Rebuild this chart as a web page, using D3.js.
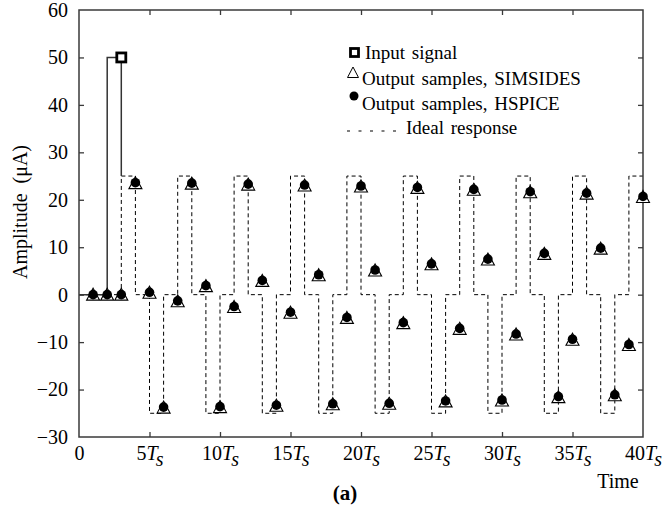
<!DOCTYPE html>
<html>
<head>
<meta charset="utf-8">
<script src="https://cdn.jsdelivr.net/npm/d3@7"></script>
<style>
  body { margin: 0; background: #fff; }
  svg text { font-family: "Liberation Serif", "Times New Roman", Times, serif; fill: #000; }
</style>
</head>
<body>
<svg id="chart" width="664" height="508"></svg>
<script>
// sample index n (in units of Ts)
const sampleN = d3.range(1, 41);

// HSPICE output samples (uA)
const hspice = [0, 0, 0, 23.6, 0.5, -23.7, -1.3, 23.5, 1.9, -23.6,
                -2.5, 23.3, 3.0, -23.3, -3.7, 23.1, 4.2, -23.0, -4.8, 22.9,
                5.2, -22.9, -5.9, 22.6, 6.5, -22.4, -7.1, 22.2, 7.5, -22.2,
                -8.3, 21.7, 8.7, -21.5, -9.4, 21.4, 9.8, -21.1, -10.5, 20.7];

// SIMSIDES output samples (uA)
const simsides = [0, 0, 0, 23.5, 0.4, -23.8, -1.4, 23.4, 1.8, -23.7,
                  -2.6, 23.2, 2.9, -23.4, -3.8, 23.0, 4.1, -23.1, -4.9, 22.8,
                  5.1, -23.0, -6.0, 22.5, 6.4, -22.5, -7.2, 22.1, 7.4, -22.3,
                  -8.4, 21.6, 8.6, -21.6, -9.5, 21.3, 9.7, -21.2, -10.6, 20.6];

// ideal response, held from n*Ts to (n+1)*Ts
const idealN = d3.range(0, 41);
const ideal = [0, 0, 0, 25, 0, -25, 0, 25, 0, -25,
               0, 25, 0, -25, 0, 25, 0, -25, 0, 25,
               0, -25, 0, 25, 0, -25, 0, 25, 0, -25,
               0, 25, 0, -25, 0, 25, 0, -25, 0, 25, 25];

// input signal, held
const inputN = [0, 1, 2, 3];
const inputV = [0, 0, 50, 50];

const yTicks = [-30, -20, -10, 0, 10, 20, 30, 40, 50, 60];
const xTicks = [0, 5, 10, 15, 20, 25, 30, 35, 40];

const legendItems = ["Input signal", "Output samples, SIMSIDES", "Output samples, HSPICE", "Ideal response"];

const svg = d3.select("#chart");
const margin = { top: 10, right: 21, bottom: 71, left: 79 };
const width = 664 - margin.left - margin.right,
      height = 508 - margin.top - margin.bottom;
const chart = svg.append("g").attr("transform", `translate(${margin.left},${margin.top})`);

const x = d3.scaleLinear().domain([0, 40]).range([0, width]);
const y = d3.scaleLinear().domain([-30, 60]).range([height, 0]);

const frameColor = "#3a3a3a";

// ideal response (dashed step)
const idealPts = idealN.map((n, i) => [n, ideal[i]]);
chart.append("path")
  .datum(idealPts)
  .attr("fill", "none")
  .attr("stroke", "#000")
  .attr("stroke-width", 1)
  .attr("stroke-dasharray", "4,3")
  .attr("d", d3.line().x(d => x(d[0])).y(d => y(d[1])).curve(d3.curveStepAfter));

// input signal (solid step), dropping onto the ideal response level
const inputPts = inputN.map((n, i) => [n, inputV[i]]);
inputPts.push([inputN[inputN.length - 1], ideal[inputN[inputN.length - 1]]]);
chart.append("path")
  .datum(inputPts)
  .attr("fill", "none")
  .attr("stroke", "#333")
  .attr("stroke-width", 1.5)
  .attr("d", d3.line().x(d => x(d[0])).y(d => y(d[1])).curve(d3.curveStepAfter));

// input marker
chart.append("rect")
  .attr("x", x(3) - 4.5).attr("y", y(50) - 4.5)
  .attr("width", 9).attr("height", 9)
  .attr("fill", "#fff").attr("stroke", "#000").attr("stroke-width", 2.8);

// frame and axes
chart.append("rect")
  .attr("width", width).attr("height", height)
  .attr("fill", "none").attr("stroke", frameColor).attr("stroke-width", 1.5);

const tickLen = 5;
const xb = chart.append("g")
  .attr("transform", `translate(0,${height})`)
  .call(d3.axisBottom(x).tickValues(xTicks).tickSize(-tickLen).tickFormat(""));
xb.select(".domain").remove();
xb.selectAll(".tick line").attr("stroke", frameColor).attr("stroke-width", 1.3);
xb.selectAll(".tick").filter(d => d === 0 || d === 40).select("line").remove();

xb.selectAll(".tick").append("text")
  .attr("y", 23)
  .attr("text-anchor", "middle")
  .attr("font-size", 20)
  .each(function(d) {
    const t = d3.select(this);
    if (d === 0) { t.text("0"); return; }
    t.append("tspan").text(d);
    t.append("tspan").attr("font-style", "italic").text("T");
    t.append("tspan").attr("font-style", "italic").attr("dy", 6).text("s");
  });

const xt = chart.append("g")
  .call(d3.axisTop(x).tickValues(xTicks).tickSize(-tickLen).tickFormat(""));
xt.select(".domain").remove();
xt.selectAll(".tick line").attr("stroke", frameColor).attr("stroke-width", 1.3);
xt.selectAll(".tick").filter(d => d === 0 || d === 40).select("line").remove();

const yl = chart.append("g")
  .call(d3.axisLeft(y).tickValues(yTicks).tickSize(-tickLen).tickPadding(11));
yl.select(".domain").remove();
yl.selectAll(".tick line").attr("stroke", frameColor).attr("stroke-width", 1.3);
yl.selectAll(".tick").filter(d => d === -30 || d === 60).select("line").remove();
yl.selectAll(".tick text").attr("font-size", 20);

const yr = chart.append("g").attr("transform", `translate(${width},0)`)
  .call(d3.axisRight(y).tickValues(yTicks).tickSize(-tickLen).tickFormat(""));
yr.select(".domain").remove();
yr.selectAll(".tick line").attr("stroke", frameColor).attr("stroke-width", 1.3);
yr.selectAll(".tick").filter(d => d === -30 || d === 60).select("line").remove();

// output samples
const triPath = "M0,-6.5L6.5,5.5L-6.5,5.5Z";
chart.selectAll(".tri")
  .data(sampleN.map((n, i) => [n, simsides[i]]))
  .join("path")
  .attr("class", "tri")
  .attr("transform", d => `translate(${x(d[0])},${y(d[1])})`)
  .attr("d", triPath)
  .attr("fill", "#fff").attr("stroke", "#000").attr("stroke-width", 1.1);

chart.selectAll(".dot")
  .data(sampleN.map((n, i) => [n, hspice[i]]))
  .join("circle")
  .attr("class", "dot")
  .attr("cx", d => x(d[0]))
  .attr("cy", d => y(d[1]))
  .attr("r", 4.8)
  .attr("fill", "#000");

// axis titles
svg.append("text")
  .attr("transform", "translate(27,212) rotate(-90)")
  .attr("text-anchor", "middle")
  .attr("font-size", 20)
  .style("white-space", "pre")
  .text("Amplitude  (\u03bcA)");

svg.append("text")
  .attr("x", 618).attr("y", 488)
  .attr("text-anchor", "middle")
  .attr("font-size", 20)
  .text("Time");

svg.append("text")
  .attr("x", 345).attr("y", 500)
  .attr("text-anchor", "middle")
  .attr("font-size", 21)
  .attr("font-weight", "bold")
  .text("(a)");

// legend
const lg = svg.append("g");
const rowY = [59, 85, 110, 134];
const textX = [365, 362, 362, 406];
legendItems.forEach((label, i) => {
  lg.append("text")
    .attr("x", textX[i]).attr("y", rowY[i])
    .attr("font-size", 19)
    .attr("word-spacing", 2)
    .text(label);
});
lg.append("rect")
  .attr("x", 350.5).attr("y", 48.5).attr("width", 8).attr("height", 8)
  .attr("fill", "#fff").attr("stroke", "#000").attr("stroke-width", 2.8);
lg.append("path")
  .attr("d", "M353,67L358.5,77.5L347.5,77.5Z")
  .attr("fill", "#fff").attr("stroke", "#000").attr("stroke-width", 1);
lg.append("circle")
  .attr("cx", 354).attr("cy", 96).attr("r", 4.5).attr("fill", "#000");
lg.append("line")
  .attr("x1", 347).attr("x2", 400).attr("y1", 131).attr("y2", 131)
  .attr("stroke", "#000").attr("stroke-width", 1.2)
  .attr("stroke-dasharray", "3,8.5");
</script>
</body>
</html>
